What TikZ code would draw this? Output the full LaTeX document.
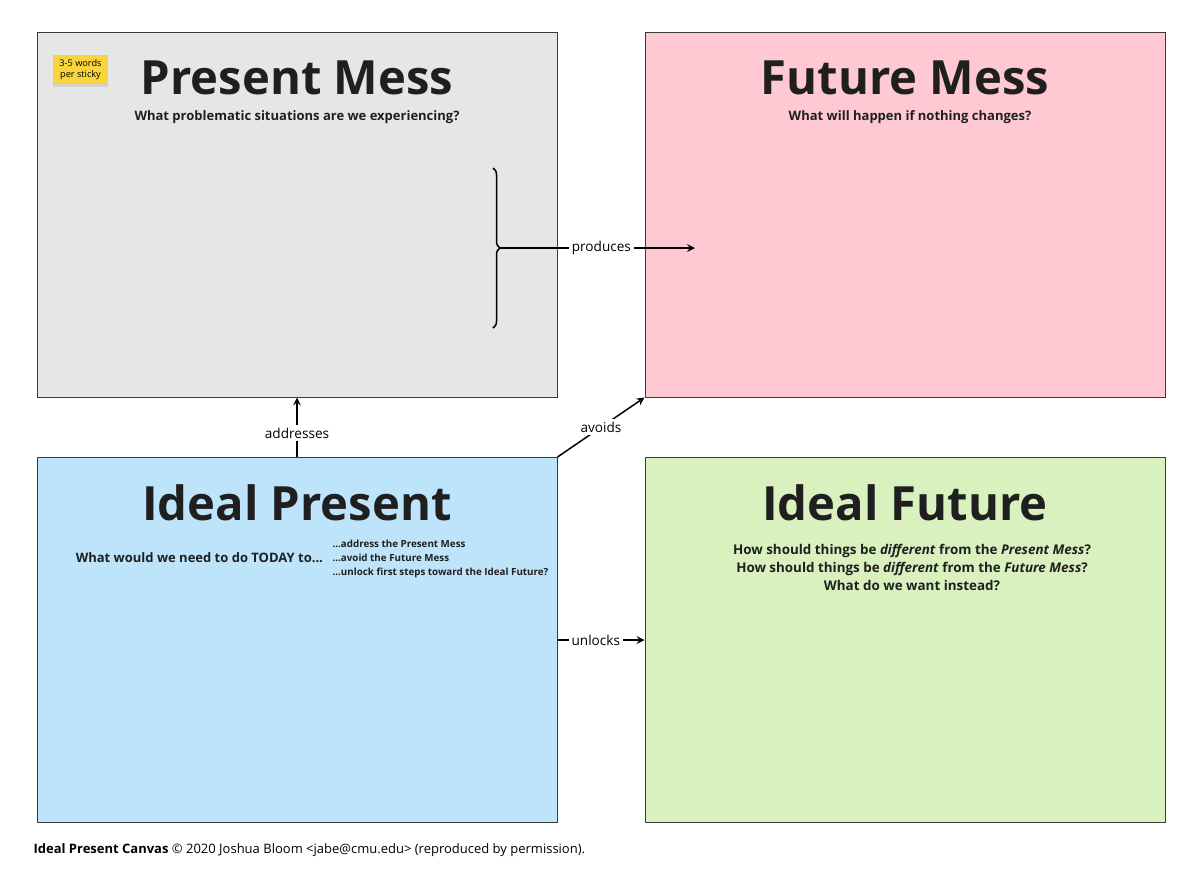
\documentclass[tikz,border=0pt]{standalone}
\usepackage{fontspec}
\setmainfont{Open Sans}
\usetikzlibrary{positioning}
\usetikzlibrary{decorations.pathreplacing}
\usetikzlibrary{shadows}
\definecolor{messgray}{HTML}{E6E6E6}
\definecolor{messpink}{HTML}{FFC9D4}
\definecolor{idealblue}{HTML}{BEE4FB}
\definecolor{idealgreen}{HTML}{D9F1BF}
\definecolor{stickyyellow}{HTML}{F9D43C}
\definecolor{edgegray}{HTML}{3A3A3A}

\begin{document}
\begin{tikzpicture}[>=stealth, x=0.5pt, y=-0.5pt,
quad/.style={draw=edgegray, line width=.5pt, minimum width=260pt, minimum height=182.5pt, inner sep=0pt},
title/.style={font=\fontsize{23.6}{28}\bfseries\selectfont, text=black!88},
sub/.style={font=\fontsize{6.5}{9}\bfseries\selectfont, text=black!88, align=center},
rel/.style={->, line width=.75pt},
lbl/.style={fill=white, font=\fontsize{6.8}{8}\selectfont, inner sep=1.5pt}]
\useasboundingbox (0,0) rectangle (1200,874);
\node [quad, fill=messgray] (pm) at (297,214.5) {};
\node [quad, fill=messpink] (fm) at (905,214.5) {};
\node [quad, fill=idealblue] (ip) at (297,640) {};
\node [quad, fill=idealgreen] (if) at (905,640) {};

\node [title] (pmt) at (297,78) {Present Mess};
\node [title] (fmt) at (905,78) {Future Mess};
\node [title] (ipt) at (297,503) {Ideal Present};
\node [title] (ift) at (905,503) {Ideal Future};

\node [sub] (pms) at (297,117) {What problematic situations are we experiencing?};
\node [sub] (fms) at (910,117) {What will happen if nothing changes?};
\node [sub, anchor=east] (ips) at (330,558) {What would we need to do TODAY to...};
\node [sub, anchor=west, align=left, font=\fontsize{4.9}{7}\bfseries\selectfont] (ipl) at (325.5,559) {...address the Present Mess\\...avoid the Future Mess\\...unlock first steps toward the Ideal Future?};
\node [sub, font=\fontsize{6.7}{9}\bfseries\selectfont] (ifs) at (912,567) {How should things be \textit{different} from the \textit{Present Mess}?\\How should things be \textit{different} from the \textit{Future Mess}?\\What do we want instead?};

\node [fill=stickyyellow, drop shadow={shadow xshift=0pt, shadow yshift=-1.5pt, opacity=.2}, minimum width=27.5pt, minimum height=14.5pt, inner sep=0pt, align=center, font=\fontsize{4.6}{5.8}\selectfont] (sticky) at (80.5,69.5) {3-5 words\\per sticky};

\draw [line width=.75pt, decorate, decoration={brace, amplitude=3.5pt}] (493,168) -- (493,328);
\coordinate (bt) at (500,248);
\coordinate (pe) at (695,248);
\draw [rel] (bt) -- (pe) node [lbl, pos=.52] {produces};
\draw [rel] (ip.north) -- (pm.south) node [lbl, pos=.4] {addresses};
\draw [rel] (ip.north east) -- (fm.south west) node [lbl, midway] {avoids};
\draw [rel] (ip.east) -- (if.west) node [lbl, pos=.44] {unlocks};

\node [anchor=west, font=\fontsize{6.5}{8}\selectfont] (credit) at (26.5,850) {\textbf{Ideal Present Canvas} © 2020 Joshua Bloom <jabe@cmu.edu> (reproduced by permission).};
\end{tikzpicture}
\end{document}
